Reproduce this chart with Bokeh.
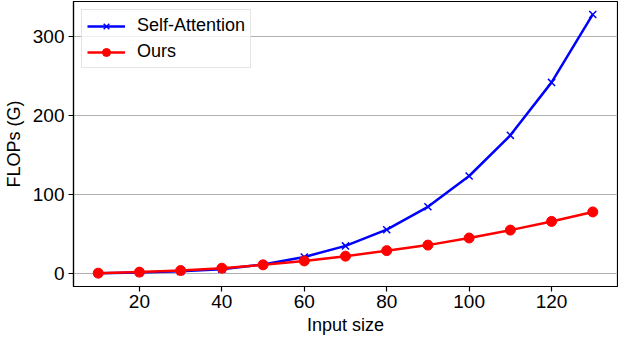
from bokeh.plotting import figure
from bokeh.models import Range1d, FixedTicker, Legend, LegendItem
from bokeh.embed import file_html
from bokeh.resources import INLINE

input_size = [10, 20, 30, 40, 50, 60, 70, 80, 90, 100, 110, 120, 130]
self_attention = [0.3, 1.2, 2.8, 5.5, 11.5, 21, 35, 55.5, 84.5, 123.5, 175, 242, 328]
ours = [0.5, 1.8, 3.8, 6.8, 11, 16, 22, 29, 36, 45, 55, 66, 78]
x_ticks = [20, 40, 60, 80, 100, 120]
y_ticks = [0, 100, 200, 300]

FONT = "Liberation Sans"

p = figure(width=618, height=341, output_backend="svg", toolbar_location=None,
           x_range=Range1d(4, 136), y_range=Range1d(-16.4, 344.4),
           min_border_left=62, min_border_right=1, min_border_top=1, min_border_bottom=55)

p.outline_line_color = "black"
p.outline_line_width = 1.2
p.xgrid.grid_line_color = None
p.ygrid.grid_line_color = "#b0b0b0"
p.ygrid.grid_line_width = 1.2

for ax in (p.xaxis[0], p.yaxis[0]):
    ax.axis_line_color = "black"
    ax.axis_line_width = 1.2
    ax.major_tick_out = 5
    ax.major_tick_in = 0
    ax.major_tick_line_width = 1.2
    ax.minor_tick_line_color = None
    ax.major_label_text_font = FONT
    ax.major_label_text_font_size = "19px"
    ax.major_label_text_color = "black"
    ax.axis_label_text_font = FONT
    ax.axis_label_text_font_size = "18px"
    ax.axis_label_text_font_style = "normal"
    ax.axis_label_text_color = "black"

p.xaxis.ticker = FixedTicker(ticks=x_ticks)
p.yaxis.ticker = FixedTicker(ticks=y_ticks)
p.xaxis.axis_label = "Input size"
p.yaxis.axis_label = "FLOPs (G)"
p.xaxis.axis_label_standoff = 4
p.yaxis.axis_label_standoff = 6
p.xaxis.major_label_standoff = 3
p.yaxis.major_label_standoff = 4

l1 = p.line(input_size, self_attention, line_color="blue", line_width=2.5)
m1 = p.scatter(input_size, self_attention, marker="x", size=10, line_color="blue", line_width=1.5)
l2 = p.line(input_size, ours, line_color="red", line_width=2.5)
m2 = p.scatter(input_size, ours, marker="circle", size=10, fill_color="red", line_color="red")

legend = Legend(items=[LegendItem(label="Self-Attention", renderers=[l1, m1]),
                       LegendItem(label="Ours", renderers=[l2, m2])],
                location="top_left")
legend.label_text_font = FONT
legend.label_text_font_size = "18px"
legend.label_text_color = "black"
legend.glyph_width = 38
legend.glyph_height = 20
legend.spacing = 5
legend.padding = 5
legend.margin = 8
legend.border_line_color = "#cccccc"
legend.border_line_width = 1
legend.background_fill_alpha = 0.8
legend.label_standoff = 12
p.add_layout(legend)

open("out.html", "w").write(file_html(p, INLINE))
